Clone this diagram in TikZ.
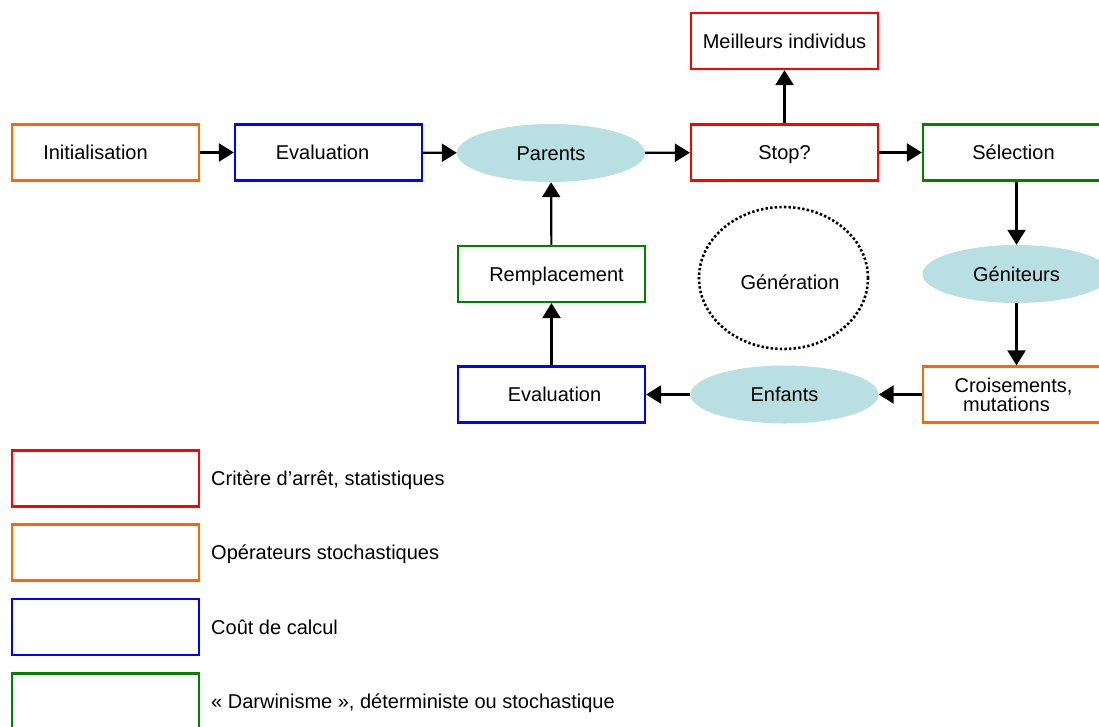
\documentclass[tikz,border=0pt]{standalone}
\usepackage{fontspec}
\setmainfont{Liberation Sans}
\usetikzlibrary{arrows.meta,shapes.geometric}
\definecolor{cred}{RGB}{255,0,0}
\definecolor{corange}{RGB}{255,102,0}
\definecolor{cblue}{RGB}{0,0,255}
\definecolor{cgreen}{RGB}{0,128,0}
\definecolor{cteal}{RGB}{184,223,226}
\begin{document}
\begin{tikzpicture}[x=1pt,y=-1pt,
  font=\fontsize{20}{19}\selectfont,
  txt/.style={text height=18pt, text depth=4pt},
  box/.style={draw, line width=2.2pt, minimum width=187pt, minimum height=56pt, inner sep=0pt, txt},
  pop/.style={ellipse, fill=cteal, minimum width=188pt, minimum height=58pt, inner sep=0pt, txt},
  arr/.style={line width=2.2pt, -{Triangle[length=15pt,width=18pt]}},
  legtext/.style={anchor=west, inner sep=0pt, txt}
]
\clip (0,0) rectangle (1099,726);
\node[box,draw=corange] (init) at (105.5,152.5) {\hspace*{-20pt}Initialisation};
\node[box,draw=cblue] (eval1) at (328.5,152.5) {\hspace*{-12pt}Evaluation};
\node[pop] (parents) at (551,153) {Parents};
\node[box,draw=cred] (stop) at (784.5,152.5) {Stop?};
\node[box,draw=cred] (best) at (784.5,41) {Meilleurs individus};
\node[box,draw=cgreen] (sel) at (1016.5,152.5) {\hspace*{-6pt}Sélection};
\node[pop] (gen) at (1016.5,274) {Géniteurs};
\node[draw, line width=2.2pt, minimum width=187pt, minimum height=56pt, inner sep=0pt, draw=corange, align=center] (cross) at (1016.5,394.5) {\hspace*{-6pt}Croisements,\\mutations\hspace*{20pt}};
\node[pop] (enf) at (784.5,394.5) {Enfants};
\node[box,draw=cblue] (eval2) at (551.5,394.5) {\hspace*{6pt}Evaluation};
\node[box,draw=cgreen] (rep) at (551.5,274) {\hspace*{10pt}Remplacement};
\node[ellipse, draw, line width=2.6pt, dash pattern=on 2.4pt off 2.2pt, minimum width=169pt, minimum height=142pt, inner sep=0pt] (generation) at (783.5,278) {};
\node[txt] (gentext) at (790,282) {Génération};

\draw[arr] (init) -- (eval1);
\draw[arr] (eval1) -- (parents);
\draw[arr] (parents) -- (stop);
\draw[arr] (stop) -- (sel);
\draw[arr] (stop) -- (best);
\draw[arr] (sel) -- (gen);
\draw[arr] (gen) -- (cross);
\draw[arr] (cross) -- (enf);
\draw[arr] (enf) -- (eval2);
\draw[arr] (eval2) -- (rep);
\draw[arr] (rep) -- (parents);

\node[box,draw=cred] (l1) at (105.5,478.5) {};
\node[legtext] (t1) at (211,478.5) {Critère d’arrêt, statistiques};
\node[box,draw=corange] (l2) at (105.5,552.5) {};
\node[legtext] (t2) at (211,552.5) {Opérateurs stochastiques};
\node[box,draw=cblue] (l3) at (105.5,627) {};
\node[legtext] (t3) at (211,627) {Coût de calcul};
\node[box,draw=cgreen] (l4) at (105.5,701.5) {};
\node[legtext] (t4) at (211,701.5) {« Darwinisme », déterministe ou stochastique};
\end{tikzpicture}
\end{document}
